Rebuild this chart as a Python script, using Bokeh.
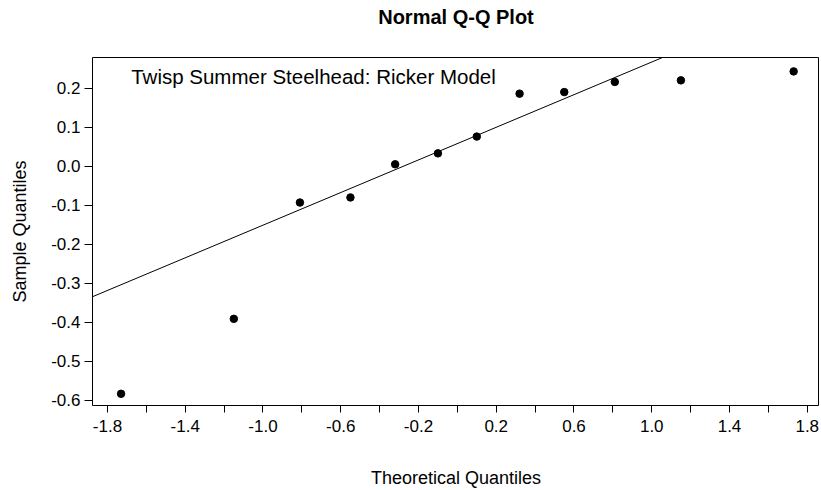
from bokeh.plotting import figure
from bokeh.models import FixedTicker, Slope, Label, Range1d, LinearAxis
from bokeh.embed import file_html
from bokeh.resources import INLINE

# Data
theoretical = [-1.73, -1.15, -0.81, -0.55, -0.32, -0.10, 0.10, 0.32, 0.55, 0.81, 1.15, 1.73]
sample = [-0.583, -0.391, -0.093, -0.080, 0.005, 0.033, 0.076, 0.186, 0.190, 0.216, 0.220, 0.243]
line_slope = 0.209
line_intercept = 0.058

x_major = [-1.8, -1.4, -1.0, -0.6, -0.2, 0.2, 0.6, 1.0, 1.4, 1.8]
x_minor = [-1.6, -1.2, -0.8, -0.4, 0.0, 0.4, 0.8, 1.2, 1.6]
x_labels = ["-1.8", "-1.4", "-1.0", "-0.6", "-0.2", "0.2", "0.6", "1.0", "1.4", "1.8"]
y_major = [-0.6, -0.5, -0.4, -0.3, -0.2, -0.1, 0.0, 0.1, 0.2]
y_labels = ["-0.6", "-0.5", "-0.4", "-0.3", "-0.2", "-0.1", "0.0", "0.1", "0.2"]

title_text = "Normal Q-Q Plot"
note_text = "Twisp Summer Steelhead: Ricker Model"
x_label = "Theoretical Quantiles"
y_label = "Sample Quantiles"

FONT = "Liberation Sans"
X0, X1 = -1.877, 1.863
Y0, Y1 = -0.613, 0.2786

p = figure(width=819, height=490, output_backend="svg", toolbar_location=None,
           x_range=Range1d(X0, X1), y_range=Range1d(Y0, Y1),
           min_border_left=92, min_border_right=0, min_border_top=57, min_border_bottom=85)

p.background_fill_color = "white"
p.border_fill_color = "white"
p.outline_line_color = "black"
p.outline_line_width = 1
p.xgrid.visible = False
p.ygrid.visible = False

xa = p.xaxis[0]
xa.ticker = FixedTicker(ticks=x_major, minor_ticks=x_minor)
xa.major_label_overrides = {t: s for t, s in zip(x_major, x_labels)}
xa.axis_line_color = None
xa.major_tick_out = 7
xa.major_tick_in = 0
xa.minor_tick_out = 7
xa.minor_tick_in = 0
xa.major_label_standoff = 7
xa.major_label_text_font = FONT
xa.major_label_text_font_size = "17px"
xa.major_label_text_color = "black"
xa.axis_label = x_label
xa.axis_label_text_font = FONT
xa.axis_label_text_font_size = "18px"
xa.axis_label_text_font_style = "normal"
xa.axis_label_text_color = "black"
xa.axis_label_standoff = 33

ya = p.yaxis[0]
ya.ticker = FixedTicker(ticks=y_major, minor_ticks=[])
ya.major_label_overrides = {t: s for t, s in zip(y_major, y_labels)}
ya.axis_line_color = None
ya.major_tick_out = 8
ya.major_tick_in = 0
ya.minor_tick_out = 0
ya.minor_tick_in = 0
ya.major_label_standoff = 4
ya.major_label_text_font = FONT
ya.major_label_text_font_size = "17px"
ya.major_label_text_color = "black"
ya.axis_label = y_label
ya.axis_label_text_font = FONT
ya.axis_label_text_font_size = "18px"
ya.axis_label_text_font_style = "normal"
ya.axis_label_text_color = "black"
ya.axis_label_standoff = 18

# chart title: label of a tick-less axis above the plotting box
ta = LinearAxis(ticker=FixedTicker(ticks=[]), axis_line_color=None,
                major_tick_out=0, major_tick_in=0, minor_tick_out=0, minor_tick_in=0,
                major_label_standoff=0, major_label_text_font_size="1px",
                axis_label=title_text, axis_label_standoff=30,
                axis_label_text_font=FONT, axis_label_text_font_size="20px",
                axis_label_text_font_style="bold", axis_label_text_color="black")
p.add_layout(ta, "above")

p.add_layout(Slope(gradient=line_slope, y_intercept=line_intercept,
                   line_color="black", line_width=1))

p.scatter(theoretical, sample, size=7.5, color="black", marker="circle")

p.add_layout(Label(x=-1.678, y=0.230, text=note_text, text_font=FONT,
                   text_font_size="20.5px", text_color="black",
                   text_baseline="alphabetic", text_align="left"))

open("out.html", "w").write(file_html(p, INLINE))
